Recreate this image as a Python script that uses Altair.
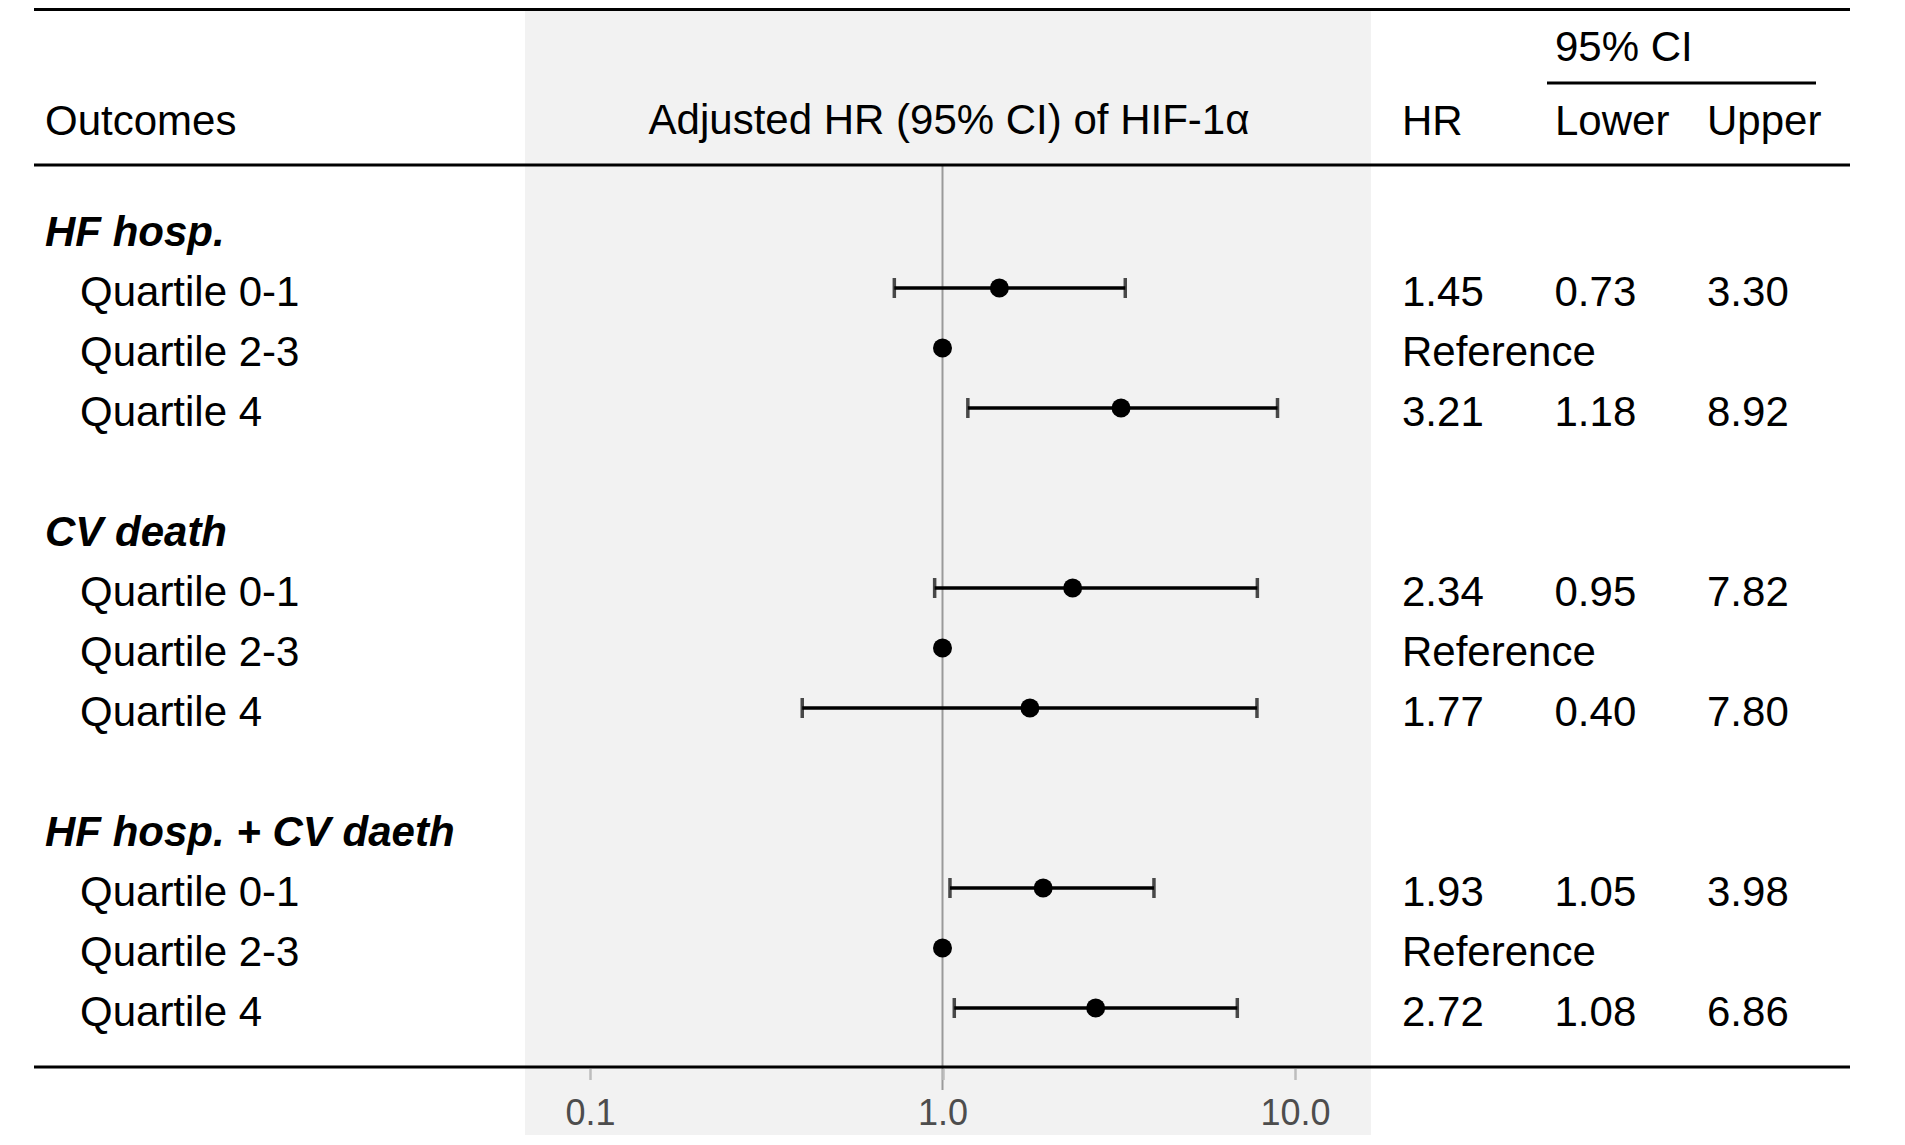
import altair as alt
import pandas as pd

FONT = "Liberation Sans"
FS = 42

# ---- data ----
groups = ["HF hosp.", "CV death", "HF hosp. + CV daeth"]
quartiles = ["Quartile 0-1", "Quartile 2-3", "Quartile 4"]
hr = [1.45, 1.00, 3.21, 2.34, 1.00, 1.77, 1.93, 1.00, 2.72]
lower = [0.73, None, 1.18, 0.95, None, 0.40, 1.05, None, 1.08]
upper = [3.30, None, 8.92, 7.82, None, 7.80, 3.98, None, 6.86]
table_cols = ["HR", "Lower", "Upper"]
tick_values = [0.1, 1.0, 10.0]

# ---- build tables ----
label_rows, est_rows, table_rows = [], [], []
for g, gname in enumerate(groups):
    base = 5 * g
    label_rows.append({"row": base, "kind": "group", "label": gname})
    for q, qname in enumerate(quartiles):
        i = 3 * g + q
        r = base + 1 + q
        label_rows.append({"row": r, "kind": "item", "label": qname})
        est_rows.append({"row": r, "hr": hr[i], "lower": lower[i], "upper": upper[i]})
        if lower[i] is None:
            table_rows.append({"row": r, "col": "HR", "text": "Reference"})
        else:
            for c, v in zip(table_cols, [hr[i], lower[i], upper[i]]):
                table_rows.append({"row": r, "col": c, "text": f"{v:.2f}"})

label_df = pd.DataFrame(label_rows)
group_df = label_df[label_df["kind"] == "group"]
item_df = label_df[label_df["kind"] == "item"]
est_df = pd.DataFrame(est_rows)
ci_df = est_df.dropna()
table_df = pd.DataFrame(table_rows)
one = pd.DataFrame({"k": [0]})

# ---- scales ----
xlog = alt.Scale(type="log", domain=[0.1, 10], range=[582, 1287], nice=False)
yrow = alt.Scale(domain=[0, 13], range=[220, 1000], nice=False, zero=False)
xlab = alt.Scale(domain=["group", "item"], range=[37, 72], padding=0)
xtab = alt.Scale(domain=table_cols, range=[1394, 1699], padding=0)
Y = alt.Y("row:Q", scale=yrow, axis=None)


def hline(x1, x2, y, w=3):
    return alt.Chart(one).mark_rule(color="black", strokeWidth=w).encode(
        x=alt.value(x1), x2=alt.value(x2), y=alt.value(y))


def header(text, x, y, align="left"):
    return alt.Chart(one).mark_text(
        text=text, align=align, baseline="alphabetic", font=FONT, fontSize=FS, color="black"
    ).encode(x=alt.value(x), y=alt.value(y))


bg = alt.Chart(one).mark_rect(color="#f2f2f2").encode(
    x=alt.value(517), x2=alt.value(1363), y=alt.value(0), y2=alt.value(1127))

ref = alt.Chart(pd.DataFrame({"v": [1.0]})).mark_rule(color="#9a9a9a", strokeWidth=2).encode(
    x=alt.X("v:Q", scale=xlog, title=None,
            axis=alt.Axis(orient="bottom", values=tick_values, format=".1f",
                          domain=False, grid=False, zindex=2, offset=1.5,
                          tickColor="#bdbdbd", tickWidth=2.5, tickSize=11,
                          labelFont=FONT, labelFontSize=36, labelColor="#4d4d4d",
                          labelPadding=45, labelBaseline="alphabetic",
                          labelFlush=False, labelOverlap=False)),
    y=alt.value(157), y2=alt.value(1082))

ci = alt.Chart(ci_df).mark_rule(color="black", strokeWidth=3.5).encode(
    x=alt.X("lower:Q", scale=xlog, axis=None), x2="upper:Q", y=Y)

cap_lo = alt.Chart(ci_df).mark_tick(color="black", orient="vertical", size=20, thickness=3.5).encode(
    x=alt.X("lower:Q", scale=xlog, axis=None), y=Y)
cap_hi = alt.Chart(ci_df).mark_tick(color="black", orient="vertical", size=20, thickness=3.5).encode(
    x=alt.X("upper:Q", scale=xlog, axis=None), y=Y)

pts = alt.Chart(est_df).mark_circle(color="black", size=360, opacity=1).encode(
    x=alt.X("hr:Q", scale=xlog, axis=None), y=Y)

grp_txt = alt.Chart(group_df).mark_text(
    align="left", baseline="alphabetic", dy=18, font=FONT, fontSize=FS,
    fontWeight="bold", fontStyle="italic", color="black"
).encode(x=alt.X("kind:N", scale=xlab, axis=None), y=Y, text="label:N")

item_txt = alt.Chart(item_df).mark_text(
    align="left", baseline="alphabetic", dy=18, font=FONT, fontSize=FS, color="black"
).encode(x=alt.X("kind:N", scale=xlab, axis=None), y=Y, text="label:N")

tab_txt = alt.Chart(table_df).mark_text(
    align="left", baseline="alphabetic", dy=18, font=FONT, fontSize=FS, color="black"
).encode(x=alt.X("col:N", scale=xtab, axis=None), y=Y, text="text:N")

chart = alt.layer(
    bg,
    ref,
    ci, cap_lo, cap_hi, pts,
    grp_txt, item_txt, tab_txt,
    header("Outcomes", 37, 127),
    header("Adjusted HR (95% CI) of HIF-1\u03b1", 941, 126, align="center"),
    header("HR", 1394, 127),
    header("95% CI", 1547, 53),
    header("Lower", 1547, 127),
    header("Upper", 1699, 127),
    hline(26, 1842, 1.5),
    hline(26, 1842, 157),
    hline(1539, 1808, 75),
    hline(26, 1842, 1059),
).resolve_scale(x="independent").properties(
    width=1880, height=1059,
    autosize=alt.AutoSizeParams(type="none"),
    padding={"left": 0, "top": 0, "right": 0, "bottom": 70},
    background="white",
).configure_view(stroke=None)

chart.save("out.html", embed_options={"renderer": "svg", "actions": False})
